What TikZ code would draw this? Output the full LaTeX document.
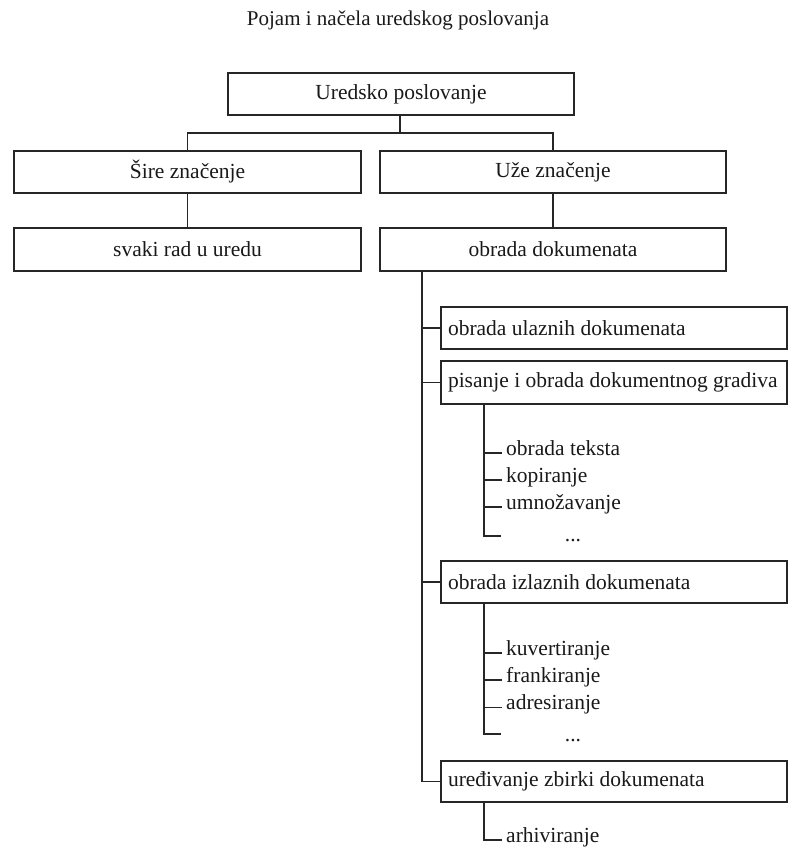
\documentclass[tikz,border=0pt]{standalone}
\usepackage{fontspec}
\setmainfont{Liberation Serif}
\begin{document}
\begin{tikzpicture}[x=1pt,y=-1pt,
  every node/.style={font=\fontsize{21.5}{25}\selectfont, text=black!90},
  cbox/.style={draw=black!85, line width=1.3pt, minimum width=346pt, minimum height=42pt, inner sep=0pt},
  lbox/.style={draw=black!85, line width=1.3pt, minimum width=346pt, minimum height=42pt, inner sep=0pt},
  item/.style={inner xsep=4pt, inner ysep=0pt, anchor=mid west},
  conn/.style={draw=black!85, line width=1.2pt}]
\newcommand{\lefttext}[1]{\makebox[332pt][l]{#1}}
\useasboundingbox (0,0) rectangle (790,858);
\clip (0,0) rectangle (790,858);
% title
\node (title) at (398,20) {\fontsize{21}{25}\selectfont Pojam i načela uredskog poslovanja};
% top level
\node[cbox] (root) at (401,94) {Uredsko poslovanje};
\node[cbox, minimum width=347pt] (sire) at (187.5,172) {Šire značenje};
\node[cbox] (uze) at (553,172) {Uže značenje};
\node[cbox, minimum width=347pt, minimum height=43pt] (svaki) at (187.5,249.5) {svaki rad u uredu};
\node[cbox, minimum height=43pt] (obrada) at (553,249.5) {obrada dokumenata};
% children
\node[lbox] (ulaz) at (614,328) {\lefttext{obrada ulaznih dokumenata}};
\node[lbox, minimum height=43pt] (pis) at (614,382.5) {\lefttext{pisanje i obrada dokumentnog gradiva}};
\node[lbox] (izl) at (614,582) {\lefttext{obrada izlaznih dokumenata}};
\node[lbox, minimum height=41pt] (ured) at (614,781.5) {\lefttext{uređivanje zbirki dokumenata}};
% sub items
\node[item] (t1) at (502,453) {obrada teksta};
\node[item] (t2) at (502,480) {kopiranje};
\node[item] (t3) at (502,507) {umnožavanje};
\node[anchor=base, inner sep=0pt] (d1) at (573,541.5) {...};
\node[item] (k1) at (502,653) {kuvertiranje};
\node[item] (k2) at (502,680) {frankiranje};
\node[item] (k3) at (502,707.5) {adresiranje};
\node[anchor=base, inner sep=0pt] (d2) at (573,741) {...};
\node[item] (a1) at (502,840) {arhiviranje};
% coordinates
\coordinate (j) at (400,133);
\coordinate (m) at (422,271);
\coordinate (ps) at (484,404);
\coordinate (pe) at (501,536);
\coordinate (is) at (484,603);
\coordinate (ie) at (501,734);
\coordinate (us) at (484,802);
% connectors
\draw[conn] (root.south -| j) -- (j);
\draw[conn] (sire.north) |- (j) -| (uze.north);
\draw[conn] (sire.south) -- (svaki.north);
\draw[conn] (uze.south) -- (obrada.north);
\draw[conn] (m) |- (ured.west);
\draw[conn] (m |- ulaz.west) -- (ulaz.west);
\draw[conn] (m |- pis.west) -- (pis.west);
\draw[conn] (m |- izl.west) -- (izl.west);
\draw[conn] (ps) |- (pe);
\draw[conn] (ps |- t1.mid west) -- (t1.mid west);
\draw[conn] (ps |- t2.mid west) -- (t2.mid west);
\draw[conn] (ps |- t3.mid west) -- (t3.mid west);
\draw[conn] (is) |- (ie);
\draw[conn] (is |- k1.mid west) -- (k1.mid west);
\draw[conn] (is |- k2.mid west) -- (k2.mid west);
\draw[conn] (is |- k3.mid west) -- (k3.mid west);
\draw[conn] (us) |- (a1.mid west);
\end{tikzpicture}
\end{document}
